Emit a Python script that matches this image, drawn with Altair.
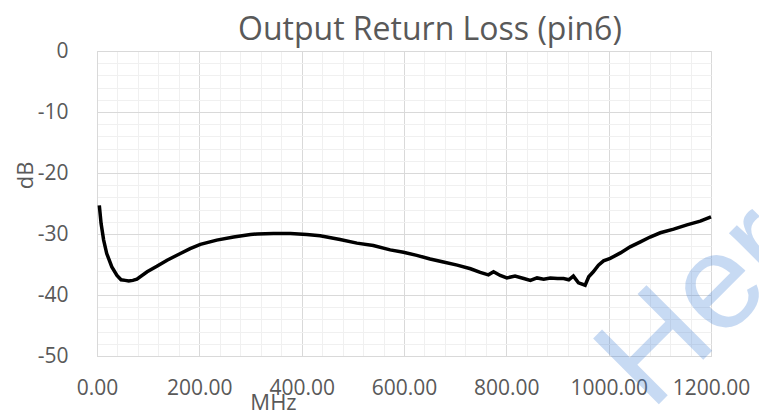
import altair as alt
import pandas as pd

# Frequency (MHz) and return loss (dB)
freq = [4.5, 8, 13, 19, 29, 39, 47, 55, 62, 70, 78, 98, 117, 137, 163, 182, 202,
        234, 267, 300, 313, 345, 378, 410, 436, 475, 508, 540, 573, 599, 625,
        651, 677, 704, 730, 749, 765, 775, 788, 801, 817, 834, 847, 860, 873,
        886, 900, 912, 922, 931, 941, 954, 961, 970, 980, 990, 1003, 1023,
        1042, 1062, 1081, 1101, 1127, 1153, 1179, 1200]
db = [-25.3, -28.3, -31.0, -33.2, -35.4, -36.8, -37.5, -37.6, -37.7, -37.6,
      -37.4, -36.2, -35.3, -34.3, -33.2, -32.4, -31.7, -31.0, -30.5, -30.1,
      -30.0, -29.9, -29.9, -30.1, -30.3, -30.9, -31.5, -31.9, -32.6, -33.0,
      -33.5, -34.1, -34.6, -35.1, -35.7, -36.3, -36.7, -36.2, -36.8, -37.2,
      -36.9, -37.3, -37.6, -37.2, -37.4, -37.2, -37.3, -37.3, -37.5, -36.9,
      -38.0, -38.4, -37.0, -36.2, -35.1, -34.4, -34.0, -33.1, -32.1, -31.3,
      -30.5, -29.8, -29.2, -28.5, -27.9, -27.2]

x_ticks = list(range(0, 1201, 40))     # minor every 40, labelled every 200
y_ticks = list(range(-50, 1, 2))       # minor every 2, labelled every 10

title_text = "Output Return Loss (pin6)"
x_title = "MHz"
y_title = "dB"
watermark = ["Her"]

df = pd.DataFrame({"freq": freq, "db": db})

TXT = "#595959"
MAJOR = "#d9d9d9"
MINOR = "#f0f0f0"

x_axis = alt.Axis(
    values=x_ticks,
    grid=True,
    gridColor={"condition": {"test": "datum.value % 200 === 0", "value": MAJOR}, "value": MINOR},
    labelExpr="datum.value % 200 === 0 ? format(datum.value, '.2f') : ''",
    labelOverlap=False, labelFlush=False, labelBound=False,
    ticks=False, domainColor=MAJOR,
    labelFont="Open Sans", labelFontSize=21, labelColor=TXT, labelPadding=21,
    title=x_title, titleFont="Open Sans", titleFontSize=22, titleFontWeight="normal",
    titleColor=TXT, titleX=176, titleY=53, titleAlign="center", titleBaseline="alphabetic",
)
y_axis = alt.Axis(
    values=y_ticks,
    grid=True,
    gridColor={"condition": {"test": "datum.value % 10 === 0", "value": MAJOR}, "value": MINOR},
    labelExpr="datum.value % 10 === 0 ? (datum.value === 0 ? '0' : '-' + abs(datum.value)) : ''",
    labelOverlap=False, labelFlush=False, labelBound=False,
    ticks=False, domainColor=MAJOR,
    labelFont="Open Sans", labelFontSize=21, labelColor=TXT, labelPadding=29,
    title=y_title, titleFont="Open Sans", titleFontSize=22, titleFontWeight="normal",
    titleColor=TXT, titleX=-65, titleY=124, titleAlign="center", titleBaseline="alphabetic",
    titleAngle=270,
)

line = alt.Chart(df).mark_line(color="black", strokeWidth=3.5).encode(
    x=alt.X("freq:Q", scale=alt.Scale(domain=[0, 1200], nice=False, zero=False), axis=x_axis),
    y=alt.Y("db:Q", scale=alt.Scale(domain=[-50, 0], nice=False, zero=False), axis=y_axis),
)

wm = alt.Chart(pd.DataFrame({"t": watermark})).mark_text(
    angle=315, align="left", baseline="alphabetic", fontSize=135,
    font="Liberation Sans", color="#4a86d8", opacity=0.3,
).encode(x=alt.value(554), y=alt.value(361), text="t:N")

chart = alt.layer(line, wm).properties(
    width=614, height=305,
    autosize=alt.AutoSizeParams(type="none"),
    padding={"left": 89, "top": 43, "right": 48, "bottom": 56},
    title=alt.TitleParams(
        title_text, font="Open Sans", fontSize=32, fontWeight="normal", color=TXT,
        anchor="start", frame="group", dx=141, baseline="alphabetic", offset=-32,
    ),
).configure_view(stroke=MAJOR).configure(background="white")

chart.save("out.html", embed_options={"renderer": "svg", "actions": False})
